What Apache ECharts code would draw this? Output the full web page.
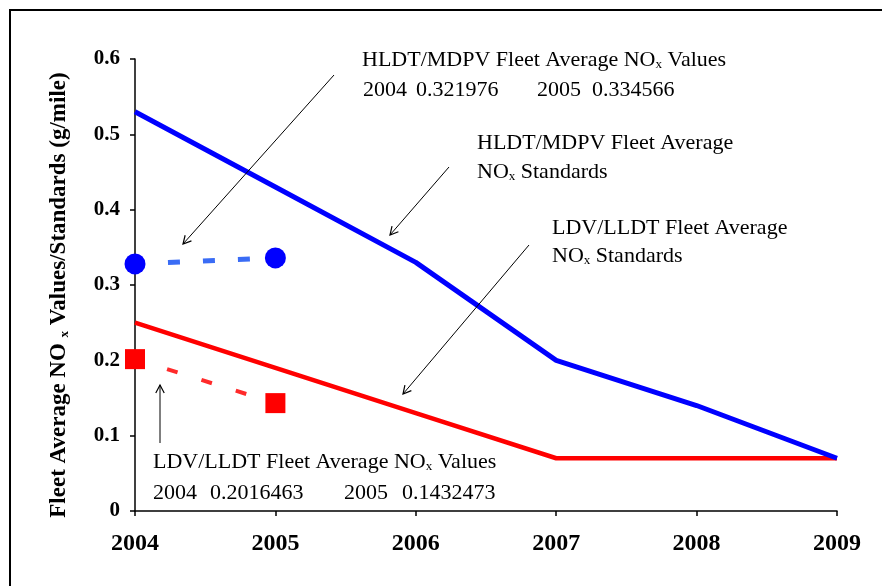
<!DOCTYPE html>
<html>
<head>
<meta charset="utf-8">
<script src="https://cdn.jsdelivr.net/npm/echarts@6/dist/echarts.min.js"></script>
<style>
  html, body { margin: 0; padding: 0; background: #fff; }
  #chart { width: 882px; height: 586px; }
</style>
</head>
<body>
<div id="chart"></div>
<script>
// ---- data ----
const years = ['2004', '2005', '2006', '2007', '2008', '2009'];
const hldtStandards = [0.53, 0.43, 0.33, 0.20, 0.14, 0.07];
const ldvStandards = [0.25, 0.19, 0.13, 0.07, 0.07, 0.07];
const hldtValues = [0.328, 0.336, null, null, null, null];
const ldvValues = [0.2016, 0.1432, null, null, null, null];
const yMin = 0, yMax = 0.6, yInterval = 0.1;

const SERIF = '"Liberation Serif", "Times New Roman", serif';
const annFont = 22;

const chart = echarts.init(document.getElementById('chart'));

function arrow(x1, y1, x2, y2) {
  const L = 9, th = 28 * Math.PI / 180;
  const a = Math.atan2(y1 - y2, x1 - x2);
  const p1 = [x2 + L * Math.cos(a + th), y2 + L * Math.sin(a + th)];
  const p2 = [x2 + L * Math.cos(a - th), y2 + L * Math.sin(a - th)];
  return [
    { type: 'line', shape: { x1, y1, x2, y2 }, style: { stroke: '#000', lineWidth: 1 }, z: 100 },
    { type: 'polyline', shape: { points: [p1, [x2, y2], p2] }, style: { stroke: '#000', lineWidth: 1.2, fill: null }, z: 100 }
  ];
}
const rich = {
  n: { fontFamily: SERIF, fontSize: annFont, color: '#000' },
  s: { fontFamily: SERIF, fontSize: 13, color: '#000', verticalAlign: 'bottom', padding: [9, 0, 0, 0] }
};
function txt(x, y, text) {
  return { type: 'text', x, y, z: 100,
    style: { text, rich, font: annFont + 'px ' + SERIF, fill: '#000', verticalAlign: 'middle', align: 'left' } };
}

const graphics = [
  { type: 'rect', shape: { x: 10, y: 10, width: 900, height: 600 }, style: { stroke: '#000', lineWidth: 2, fill: null }, z: 0 },
  txt(362, 60, '{n|HLDT/MDPV Fleet Average NO}{s|x}{n| Values}'),
  txt(363, 90, '{n|2004}'), txt(416, 90, '{n|0.321976}'), txt(537, 90, '{n|2005}'), txt(592, 90, '{n|0.334566}'),
  txt(477, 143, '{n|HLDT/MDPV Fleet Average}'),
  txt(477, 172, '{n|NO}{s|x}{n| Standards}'),
  txt(552, 228, '{n|LDV/LLDT Fleet Average}'),
  txt(552, 256, '{n|NO}{s|x}{n| Standards}'),
  txt(153, 462, '{n|LDV/LLDT Fleet Average NO}{s|x}{n| Values}'),
  txt(153, 493, '{n|2004}'), txt(210, 493, '{n|0.2016463}'), txt(344, 493, '{n|2005}'), txt(402, 493, '{n|0.1432473}'),
  ...arrow(334, 75, 183, 244),
  ...arrow(449, 167, 390, 235),
  ...arrow(529, 245, 403, 394),
  ...arrow(160, 443, 160, 385)
];

chart.setOption({
  animation: false,
  backgroundColor: '#fff',
  grid: { left: 135, right: 45, top: 59, bottom: 75, containLabel: false },
  xAxis: {
    type: 'category',
    data: years,
    boundaryGap: false,
    axisLine: { lineStyle: { color: '#000', width: 1.5 } },
    axisTick: { show: true, length: 5, lineStyle: { color: '#000', width: 1.5 } },
    axisLabel: { color: '#000', fontFamily: SERIF, fontWeight: 'bold', fontSize: 24, margin: 21 },
    splitLine: { show: false }
  },
  yAxis: {
    type: 'value',
    min: yMin, max: yMax, interval: yInterval,
    name: 'Fleet Average NO {s|x} Values/Standards (g/mile)',
    nameLocation: 'middle',
    nameGap: 64,
    nameTextStyle: {
      color: '#000', fontFamily: SERIF, fontWeight: 'bold', fontSize: 23,
      padding: [0, 20, 0, 0],
      rich: { s: { fontFamily: SERIF, fontWeight: 'bold', fontSize: 13, color: '#000', verticalAlign: 'bottom', padding: [9, 0, 0, 0] } }
    },
    axisLine: { show: true, lineStyle: { color: '#000', width: 1.5 } },
    axisTick: { show: true, length: 5, lineStyle: { color: '#000', width: 1.5 } },
    axisLabel: { color: '#000', fontFamily: SERIF, fontWeight: 'bold', fontSize: 21, margin: 15 },
    splitLine: { show: false }
  },
  series: [
    {
      type: 'line', data: ldvStandards, symbol: 'none',
      lineStyle: { color: '#ff0000', width: 4.5 }, z: 2
    },
    {
      type: 'line', data: hldtStandards, symbol: 'none',
      lineStyle: { color: '#0000ff', width: 5 }, z: 3
    },
    {
      type: 'line', data: ldvValues, symbol: 'rect', symbolSize: 20,
      itemStyle: { color: '#ff0000' },
      lineStyle: { color: '#ff2a2a', width: 4, type: [11, 25], dashOffset: 2.4 }, z: 4
    },
    {
      type: 'line', data: hldtValues, symbol: 'circle', symbolSize: 21,
      itemStyle: { color: '#0000ff' },
      lineStyle: { color: '#3a6cf5', width: 5, type: [12, 23], dashOffset: 2 }, z: 4
    }
  ],
  graphic: graphics
});
</script>
</body>
</html>
